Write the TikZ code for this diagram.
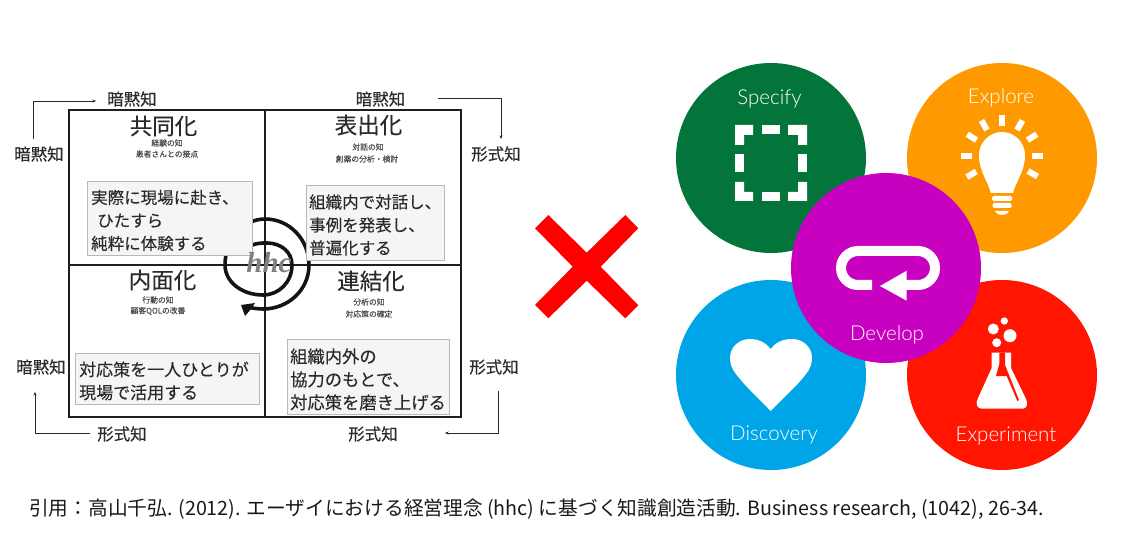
\documentclass[tikz,border=0pt]{standalone}
\usepackage{fontspec}
\setmainfont{Noto Sans CJK JP}
\newfontfamily\jpmed{Noto Sans CJK JP}[FakeBold=0.3]
\newfontfamily\jpsoft{Noto Sans CJK JP}[FakeBold=0.15]
\newfontfamily\latinlight{Lato Light}
\newfontfamily\hhcfont{Liberation Serif}
\usetikzlibrary{arrows.meta}
\definecolor{ink}{HTML}{2A2A2A}
\definecolor{cGreen}{HTML}{04753A}
\definecolor{cOrange}{HTML}{FF9900}
\definecolor{cMagenta}{HTML}{C800C0}
\definecolor{cBlue}{HTML}{00A5E8}
\definecolor{cRed}{HTML}{FF1500}
\tikzset{
  x=1pt,y=-1pt,
  axis/.style={text=ink,font=\jpmed\fontsize{16.5}{18}\selectfont,inner sep=0pt},
  title/.style={text=ink,font=\jpsoft\fontsize{22.5}{24}\selectfont,inner sep=0pt},
  tiny/.style={text=ink!85,font=\jpsoft\fontsize{7.8}{9}\selectfont,inner sep=0pt},
  notebox/.style={draw=black!28,line width=0.9pt,fill=black!4,inner sep=0pt,anchor=north west},
  notetext/.style={text=ink,inner sep=0pt,anchor=west,align=left},
  elbow/.style={draw=ink,line width=0.9pt,-{Stealth[length=3.5pt,width=3pt]}},
  frame/.style={draw=black!88,line width=2.6pt},
  disc/.style={circle,minimum size=190pt,inner sep=0pt,draw=none},
  caption/.style={text=white,font=\latinlight\fontsize{20.5}{22}\selectfont,inner sep=0pt},
  glyph/.style={fill=white,draw=none},
}
\begin{document}
\begin{tikzpicture}
\useasboundingbox (0,0) rectangle (1126,534);
% ---- quadrant frame
\draw[frame] (69,110) rectangle (461,417);
\draw[frame] (265,110) -- (265,417);
\draw[frame] (69,265) -- (461,265);
% ---- spiral
\draw[draw=black!92,line width=3.6pt,line cap=round]
  (250,246) .. controls (256,243) and (262,243) .. (267,243)
  .. controls (281,243) and (292,252) .. (292,265)
  .. controls (292,282) and (279,295) .. (263,295)
  .. controls (242,295) and (225,282) .. (225,265)
  .. controls (225,240) and (243,219) .. (265,219)
  .. controls (290,219) and (309,240) .. (309,265)
  .. controls (309,290) and (288,309) .. (263,309)
  .. controls (258,309) and (252,308) .. (246,307);
\fill[black!92] (241,305) -- (255,303) -- (251,309) -- (245,316) -- cycle;
% ---- note boxes
\node[notebox,minimum width=165pt,minimum height=74pt] (boxA) at (87,181) {};
\node[notebox,minimum width=138pt,minimum height=75pt] (boxB) at (306,185) {};
\node[notebox,minimum width=184pt,minimum height=51pt] (boxC) at (75,353) {};
\node[notebox,minimum width=162pt,minimum height=75pt] (boxD) at (287,339) {};
\node[notetext,font=\jpsoft\fontsize{16.5}{23}\selectfont] (noteA) at ([xshift=4pt,yshift=-2pt]boxA.west)
  {実際に現場に赴き、\\\hspace*{6pt}ひたすら\\純粋に体験する};
\node[notetext,font=\jpsoft\fontsize{16.5}{23}\selectfont] (noteB) at ([xshift=3pt,yshift=-2pt]boxB.west)
  {組織内で対話し、\\事例を発表し、\\普遍化する};
\node[notetext,font=\jpsoft\fontsize{17}{23}\selectfont] (noteC) at ([xshift=4pt,yshift=-2pt]boxC.west)
  {対応策を一人ひとりが\\現場で活用する};
\node[notetext,font=\jpsoft\fontsize{17.3}{23}\selectfont] (noteD) at ([xshift=3pt,yshift=-2.5pt]boxD.west)
  {組織内外の\\協力のもとで、\\対応策を磨き上げる};
% ---- hhc mark
\node[text=black!50,font=\hhcfont\bfseries\itshape\fontsize{29}{30}\selectfont,inner sep=0pt] (hhc) at (269,263) {hhc};
% ---- titles
\node[title] (tA) at (163.5,126) {共同化};
\node[title] (tB) at (368.5,125) {表出化};
\node[title] (tC) at (162.5,280) {内面化};
\node[title] (tD) at (371,281) {連結化};
% ---- small sub-labels
\node[tiny] (sA1) at (167,143) {経験の知};
\node[tiny] (sA2) at (167,154) {患者さんとの接点};
\node[tiny] (sB1) at (368,147) {対話の知};
\node[tiny] (sB2) at (367,159) {創薬の分析・検討};
\node[tiny] (sC1) at (158,300) {行動の知};
\node[tiny] (sC2) at (158,311) {顧客QOLの改善};
\node[tiny] (sD1) at (369,302) {分析の知};
\node[tiny] (sD2) at (369,314) {対応策の確定};
% ---- axis labels
\node[axis] (topL) at (132,99) {暗黙知};
\node[axis] (leftT) at (39,154) {暗黙知};
\node[axis] (topR) at (380.5,99) {暗黙知};
\node[axis] (rightT) at (496,154) {形式知};
\node[axis] (leftB) at (41,367) {暗黙知};
\node[axis] (rightB) at (494,367) {形式知};
\node[axis] (botL) at (122,434) {形式知};
\node[axis] (botR) at (373,434) {形式知};
% ---- elbow arrows
\coordinate (e1) at (33,139); \coordinate (e1e) at (96,101);
\draw[elbow] (e1) |- (e1e);
\coordinate (e2) at (438,98); \coordinate (e2e) at (501,139);
\draw[elbow] (e2) -| (e2e);
\coordinate (e3) at (498,391); \coordinate (e3e) at (445,433);
\draw[elbow] (e3) |- (e3e);
\coordinate (e4) at (90,433); \coordinate (e4e) at (35,392);
\draw[elbow] (e4) -| (e4e);
% ---- red cross
\fill[red] (548.3,215) -- (586.7,252.7) -- (625.3,215) -- (638.3,228.3) -- (600.7,266.7)
  -- (638.3,305.3) -- (625.3,318.3) -- (586.7,280.7) -- (548.3,318.3) -- (535,305)
  -- (572.7,266.7) -- (535,228.3) -- cycle;
% ---- discs
\node[disc,fill=cGreen] (specify) at (771,158) {};
\node[disc,fill=cOrange] (explore) at (1002,158) {};
\node[disc,fill=cBlue] (discovery) at (771,375) {};
\node[disc,fill=cRed] (experiment) at (1002,375) {};
\node[disc,fill=cMagenta] (develop) at (886,268) {};
% ---- captions
\node[caption] (capS) at (769.5,98.5) {Specify};
\node[caption] (capE) at (1001,98) {Explore};
\node[caption] (capD) at (887,335) {Develop};
\node[caption] (capV) at (774,434.5) {Discovery};
\node[caption] (capX) at (1006,435.5) {Experiment};
% ---- icon: dashed square
\fill[glyph] (735,125) -- (753,125) -- (753,135) -- (744,135) -- (744,145) -- (735,145) -- cycle;
\fill[glyph] (807,125) -- (788,125) -- (788,135) -- (798,135) -- (798,145) -- (807,145) -- cycle;
\fill[glyph] (735,201) -- (753,201) -- (753,192) -- (744,192) -- (744,182) -- (735,182) -- cycle;
\fill[glyph] (807,201) -- (788,201) -- (788,192) -- (798,192) -- (798,182) -- (807,182) -- cycle;
\fill[glyph] (762,125) rectangle (780,134);
\fill[glyph] (762,192) rectangle (780,201);
\fill[glyph] (735,154) rectangle (744,172);
\fill[glyph] (798,154) rectangle (807,172);
% ---- icon: bulb
\foreach \a in {0,32,60,90,120,148,180,211,-30}
  \fill[glyph,shift={(1002,156)},rotate=\a] (30,-3) rectangle (41,3);
\fill[glyph] (990.7,193) .. controls (989,183) and (979,172) .. (979,155)
  .. controls (979,142) and (990,132) .. (1002,132)
  .. controls (1014,132) and (1025,142) .. (1025,155)
  .. controls (1025,172) and (1015,183) .. (1013,193) -- cycle;
\fill[glyph,rounded corners=1.5pt] (992,196) rectangle (1012,201);
\fill[glyph,rounded corners=1.5pt] (992.5,203) rectangle (1011.5,208);
\fill[glyph] (995,211) -- (1009,211) .. controls (1007,214) and (1005,215) .. (1002,215)
  .. controls (999,215) and (997,214) .. (995,211) -- cycle;
% ---- icon: loop arrow
\draw[white,line width=10pt,rounded corners=17pt] (872,285) -- (841,285) -- (841,251) -- (935,251) -- (935,285) -- (900,285);
\fill[glyph] (880,286) -- (906.7,270.7) -- (906.7,300.7) -- cycle;
% ---- icon: heart
\fill[glyph] (770.7,411) .. controls (756,396) and (745,386) .. (736,374)
  .. controls (732,369) and (730,364) .. (730,358)
  .. controls (730,347) and (739,339) .. (750,339)
  .. controls (759,339) and (766,343) .. (770.7,349)
  .. controls (775,343) and (782,339) .. (791.7,339)
  .. controls (803,339) and (812,347) .. (812,358)
  .. controls (812,364) and (810,369) .. (806,374)
  .. controls (797,386) and (785,396) .. (770.7,411) -- cycle;
% ---- icon: flask
\fill[glyph] (991.7,352.7) -- (991.7,368) -- (978,398) .. controls (975,404) and (977,408.7) .. (982,408.7)
  -- (1023,408.7) .. controls (1027,408.7) and (1028,403) .. (1026,399) -- (1011,368) -- (1011,352.7) -- cycle;
\fill[cRed] (999.3,352.7) -- (999.3,364) -- (996,376) -- (1006.7,376) -- (1017.3,401) -- (1019,400)
  -- (1005,365) -- (1005,352.7) -- cycle;
\fill[glyph] (993.3,329) circle[radius=5.5pt];
\fill[glyph] (1004.3,321) circle[radius=3.7pt];
\fill[glyph] (1010,335.7) circle[radius=6.5pt];
\fill[glyph] (996.7,342.7) circle[radius=4.5pt];
% ---- citation
\node[anchor=west,inner sep=0pt,text=black!90,font=\fontsize{19.7}{22}\selectfont] (cite) at (29,509)
  {引用：高山千弘. (2012). エーザイにおける経営理念 (hhc) に基づく知識創造活動. Business research, (1042), 26-34.};
\end{tikzpicture}
\end{document}
